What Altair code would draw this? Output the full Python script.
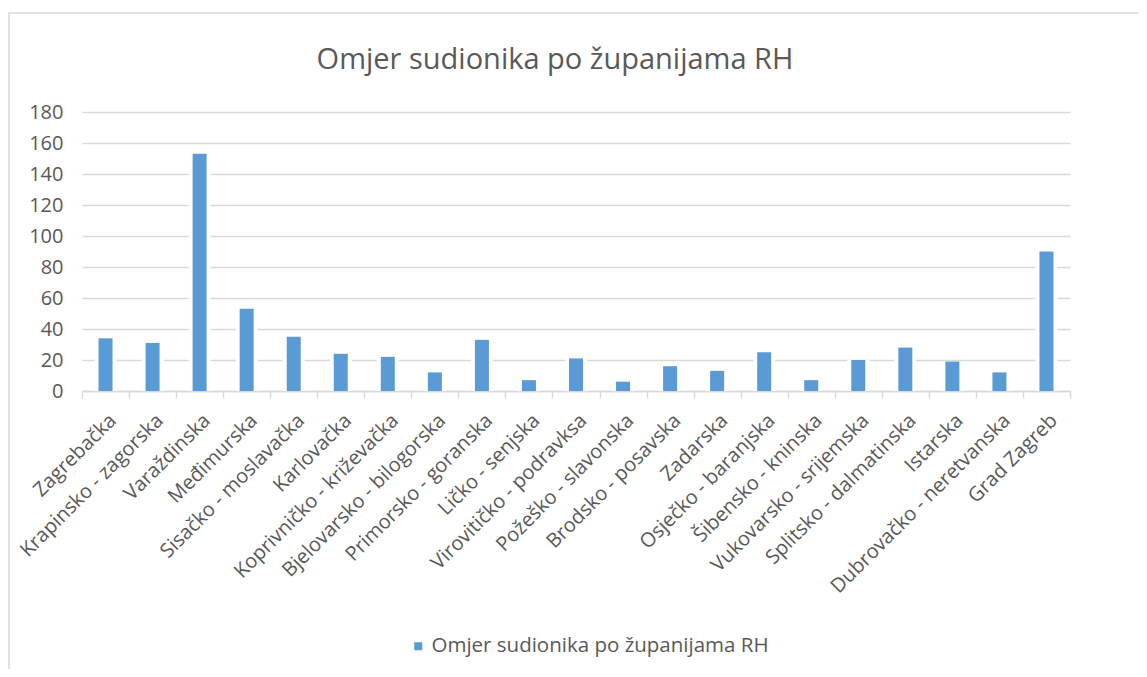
import altair as alt
import pandas as pd

counties = [
    "Zagrebačka", "Krapinsko - zagorska", "Varaždinska", "Međimurska",
    "Sisačko - moslavačka", "Karlovačka", "Koprivničko - križevačka",
    "Bjelovarsko - bilogorska", "Primorsko - goranska", "Ličko - senjska",
    "Virovitičko - podravksa", "Požeško - slavonska", "Brodsko - posavska",
    "Zadarska", "Osječko - baranjska", "Šibensko - kninska",
    "Vukovarsko - srijemska", "Splitsko - dalmatinska", "Istarska",
    "Dubrovačko - neretvanska", "Grad Zagreb",
]
values = [34, 31, 153, 53, 35, 24, 22, 12, 33, 7, 21, 6, 16, 13, 25, 7, 20, 28, 19, 12, 90]
series_name = "Omjer sudionika po županijama RH"
y_ticks = [0, 20, 40, 60, 80, 100, 120, 140, 160, 180]

df = pd.DataFrame({"county": counties, "value": values, "series": series_name})

FONT = "Open Sans"
GREY = "#595959"
GRID = "#d9d9d9"
BLUE = "#5b9bd5"

x_enc = alt.X(
    "county:N", sort=counties, title=None,
    scale=alt.Scale(paddingInner=0.0, paddingOuter=0.0),
    axis=alt.Axis(labelAngle=-45, labelFontSize=20, labelColor=GREY, labelFont=FONT,
                  domainColor=GRID, domainWidth=1.5, tickColor=GRID, tickWidth=1.5,
                  tickSize=7, tickBand="extent", labelPadding=12, labelLimit=400,
                  labelOverlap=False),
)
y_enc = alt.Y(
    "value:Q", title=None, scale=alt.Scale(domain=[0, 180], nice=False),
    axis=alt.Axis(values=y_ticks, ticks=False, domain=False, gridColor=GRID,
                  gridWidth=1.5, labelFontSize=20, labelColor=GREY,
                  labelFont=FONT, labelPadding=19, labelOverlap=False),
)

halo = alt.Chart(df).mark_bar(size=22, color="white").encode(x=x_enc, y=y_enc)

bars = alt.Chart(df).mark_bar(size=14).encode(
    x=x_enc,
    y=y_enc,
    color=alt.Color("series:N", scale=alt.Scale(range=[BLUE]), title=None,
                    legend=alt.Legend(orient="none", legendX=326, legendY=524,
                                      symbolType="square", symbolSize=64,
                                      symbolStrokeWidth=0, labelFontSize=20.5,
                                      labelColor=GREY, labelFont=FONT,
                                      labelOffset=3, labelLimit=600)),
)

title = alt.Chart(alt.Data(values=[{"t": series_name}])).mark_text(
    fontSize=29, font=FONT, color=GREY, align="center", baseline="alphabetic"
).encode(text="t:N", x=alt.value(473), y=alt.value(-43))

border = alt.Chart(alt.Data(values=[{"a": 1}])).mark_rect(
    fill=None, stroke=GRID, strokeWidth=1.5
).encode(x=alt.value(-73), x2=alt.value(1500), y=alt.value(-99), y2=alt.value(1000))

chart = alt.layer(border, halo, bars, title).properties(
    width=988, height=279,
    autosize=alt.AutoSizeParams(type="none"),
    padding={"left": 74, "top": 104, "right": 69, "bottom": 278},
).configure(background="white").configure_view(stroke=None)

chart.save("out.html", embed_options={"renderer": "svg", "actions": False})
